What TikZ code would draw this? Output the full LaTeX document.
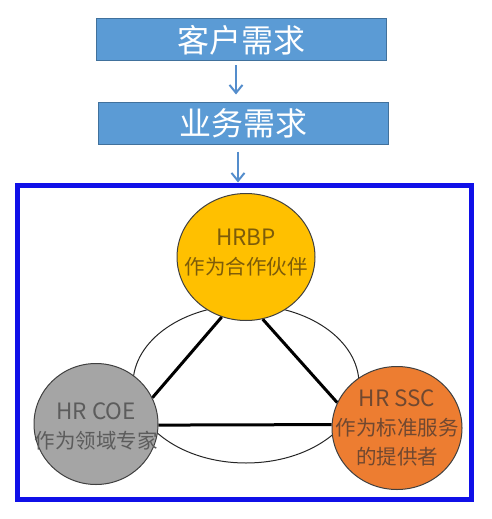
\documentclass[tikz,border=0pt]{standalone}
\usepackage{fontspec}
\setmainfont{Noto Sans CJK SC}
\newfontfamily\cjk{Noto Sans CJK SC}
\usetikzlibrary{arrows.meta,shapes.geometric,backgrounds}
\definecolor{boxblue}{RGB}{91,155,213}
\definecolor{boxedge}{RGB}{65,113,156}
\definecolor{arrowblue}{RGB}{84,141,204}
\definecolor{frameblue}{RGB}{16,16,232}
\definecolor{rolegold}{RGB}{255,192,0}
\definecolor{rolegray}{RGB}{165,165,165}
\definecolor{roleorange}{RGB}{237,125,49}
\newcommand{\latinline}[1]{{\fontsize{22.5}{29}\selectfont #1}}
\tikzset{
	needbox/.style={draw=boxedge, line width=1pt, fill=boxblue, minimum width=290, minimum height=42, inner sep=0pt, text=white, font=\cjk\fontsize{32}{32}\selectfont},
	flowarrow/.style={draw=arrowblue, line width=2pt, -{Straight Barb[length=8pt,width=13pt]}},
	rolecircle/.style={ellipse, draw=black!75, line width=1pt},
	rolelabel/.style={align=center, font=\cjk\fontsize{20.5}{29}\selectfont},
	tieline/.style={line width=3pt},
}

\begin{document}
\begin{tikzpicture}[x=1pt, y=-1pt]
		%%%%% START %%%%%
		\useasboundingbox (0, 0) rectangle (492, 519);
		
		\node[needbox] (kehu) at (241, 40) {客户需求};
		\node[needbox] (yewu) at (243, 123) {业务需求};
		\node[draw=frameblue, line width=5pt, minimum width=454, minimum height=314.5, inner sep=0pt] (frame) at (244.5, 342.25) {};
		
		\draw[flowarrow, shorten <=4pt, shorten >=7pt] ([xshift=-5pt]kehu.south) -- ([xshift=-7pt]yewu.north);
		\draw[flowarrow, shorten <=7pt] ([xshift=-5pt]yewu.south) -- ([xshift=-6.5pt]frame.north);
		
		\node[rolecircle, fill=rolegold, minimum width=138, minimum height=127] (hrbp) at (246, 257) {};
		\node[rolecircle, fill=rolegray, minimum width=124, minimum height=121] (coe) at (96, 424) {};
		\node[rolecircle, fill=roleorange, minimum width=130, minimum height=123] (ssc) at (397, 428) {};
		
		\begin{scope}[on background layer]
			\draw[line width=1pt, black!85] (246, 384) ellipse [x radius=113, y radius=79];
			\draw[tieline] (hrbp.248) -- (coe.25);
			\draw[tieline] (hrbp.285) -- (ssc.157);
			\draw[tieline] (coe.-1) -- (ssc.177);
		\end{scope}
		
		\node[rolelabel, text={rgb,255:red,125;green,92;blue,10}] (hrbptext) at ([yshift=4pt]hrbp.center) {\latinline{HRBP}\\作为合作伙伴};
		\node[rolelabel, text={rgb,255:red,92;green,92;blue,92}] (coetext) at ([yshift=-2pt]coe.center) {\latinline{HR COE}\\作为领域专家};
		\node[rolelabel, text={rgb,255:red,112;green,72;blue,48}] (ssctext) at (ssc.center) {\latinline{HR SSC}\\作为标准服务\\的提供者};
		
		%%%%% END %%%%%
\end{tikzpicture}
\end{document}
